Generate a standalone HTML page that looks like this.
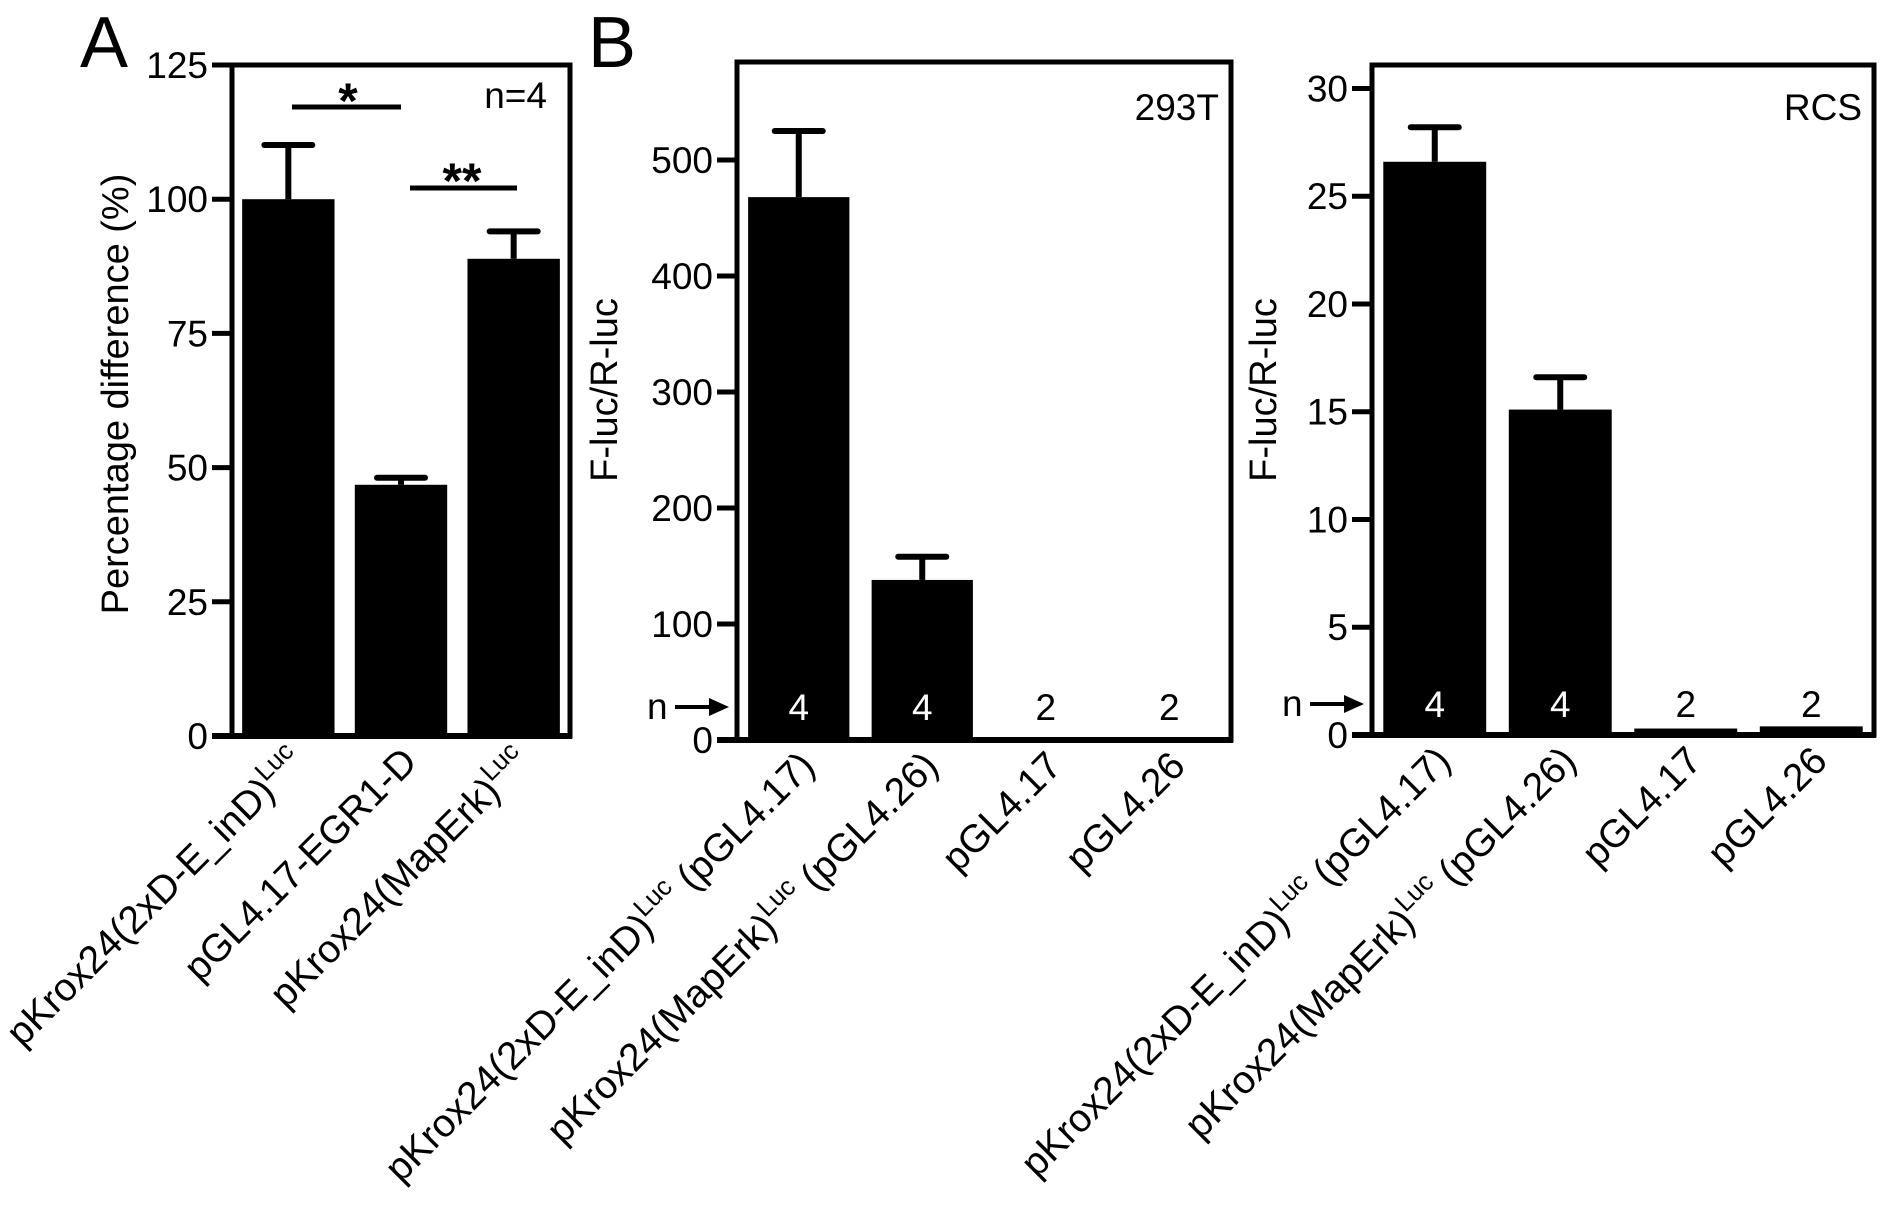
<!DOCTYPE html>
<html><head><meta charset="utf-8"><style>
html,body{margin:0;padding:0;background:#fff;}
svg{display:block;font-family:"Liberation Sans",Arial,sans-serif;}
</style></head><body>
<svg id="fig" width="1892" height="1229" viewBox="0 0 1892 1229" xmlns="http://www.w3.org/2000/svg">
<text x="80" y="67" font-size="72">A</text>
<text x="588" y="67" font-size="72">B</text>
</svg>
<script>
// Panel A data
const catsA = ["pKrox24(2xD-E_inD)|Luc|", "pGL4.17-EGR1-D", "pKrox24(MapErk)|Luc|"];
const valsA = [100, 46.8, 88.9];
const errsA = [110.1, 48.1, 94];
const ticksA = [0, 25, 50, 75, 100, 125];
// Panel B 293T data
const catsB = ["pKrox24(2xD-E_inD)|Luc| (pGL4.17)", "pKrox24(MapErk)|Luc| (pGL4.26)", "pGL4.17", "pGL4.26"];
const vals293 = [468, 138, 2, 2];
const errs293 = [525, 158, null, null];
const ticks293 = [0, 100, 200, 300, 400, 500];
const nVals = ["4", "4", "2", "2"];
// Panel B RCS data
const valsRCS = [26.6, 15.1, 0.3, 0.4];
const errsRCS = [28.2, 16.6, null, null];
const ticksRCS = [0, 5, 10, 15, 20, 25, 30];

const svg = document.getElementById('fig');
const NS = 'http://www.w3.org/2000/svg';
function mk(tag, attrs, parent) {
  const e = document.createElementNS(NS, tag);
  for (const k in attrs) e.setAttribute(k, attrs[k]);
  (parent || svg).appendChild(e);
  return e;
}

function panel(p) {
  const g = mk('g', {});
  
  
  const yScale = v => p.y0 - (v / p.vmax) * (p.y0 - p.yTop);
  const n = p.cats.length;
  const step = (p.x1 - p.x0) / n;
  const bw = step * 0.82;
  const xCenter = i => p.x0 + i * step + step / 2;
  p.vals.forEach((v, i) => {
    const r = mk('rect', {x: xCenter(i) - bw / 2, y: yScale(v), width: bw, height: p.y0 - yScale(v), fill: '#000'}, g);
    
    
    if (p.errs[i] != null) {
      const l = mk('line', {x1: xCenter(i), x2: xCenter(i), y1: yScale(v), y2: yScale(p.errs[i]), stroke: '#000', 'stroke-width': 6}, g);
      
      
      const c = mk('line', {x1: xCenter(i) - 24, x2: xCenter(i) + 24, y1: yScale(p.errs[i]), y2: yScale(p.errs[i]), stroke: '#000', 'stroke-width': 6, 'stroke-linecap': 'round'}, g);
      
      
    }
  });
  const f = mk('rect', {x: p.x0, y: p.yTop, width: p.x1 - p.x0, height: p.y0 - p.yTop, fill: 'none', stroke: '#000', 'stroke-width': 5}, g);
  
  
  p.ticks.forEach(t => {
    const y = yScale(t);
    const tl = mk('line', {x1: p.x0 - 20, x2: p.x0, y1: y, y2: y, stroke: '#000', 'stroke-width': 5}, g);
    
    
    const tx = mk('text', {x: p.x0 - 24, y: y + 13, 'font-size': 37, 'text-anchor': 'end'}, g);
    tx.textContent = String(t);
    
    
  });
  const bl = mk('line', {x1: p.x0 - 20, x2: p.x1 + 2, y1: p.y0, y2: p.y0, stroke: '#000', 'stroke-width': 6}, g);
  
  
  const yt = mk('text', {x: 0, y: 0, 'font-size': 38, 'text-anchor': 'middle', transform: `translate(${p.ytX},${p.ytY}) rotate(-90)`}, g);
  yt.textContent = p.ytitle;
  
  
  p.cats.forEach((c, i) => {
    const ax = xCenter(i) + 18, ay = p.y0 + 28;
    const t = mk('text', {x: 0, y: 0, 'font-size': 39, 'text-anchor': 'end', transform: `translate(${ax},${ay}) rotate(-45)`}, g);
    const parts = c.split('|');
    parts.forEach((s, k) => {
      if (!s) return;
      const ts = mk('tspan', {}, t);
      if (k === 1) { ts.setAttribute('font-size', '26'); ts.setAttribute('dy', '-16'); }
      if (k === 2) { ts.setAttribute('dy', '16'); }
      ts.textContent = s;
    });
    
    
  });
  if (p.nlabels) {
    p.nlabels.forEach((s, i) => {
      const inside = yScale(p.vals[i]) < p.nY - 20;
      const t = mk('text', {x: xCenter(i), y: p.nY + 13, 'font-size': 37, 'text-anchor': 'middle', fill: inside ? '#fff' : '#000'}, g);
      t.textContent = s;
      
      
    });
    const nt = mk('text', {x: p.x0 - 90, y: p.nY + 12, 'font-size': 37}, g);
    nt.textContent = 'n';
    
    
    const ar = mk('line', {x1: p.x0 - 62, x2: p.x0 - 22, y1: p.nY, y2: p.nY, stroke: '#000', 'stroke-width': 4}, g);
    
    
    const ah = mk('polygon', {points: `${p.x0 - 8},${p.nY} ${p.x0 - 28},${p.nY - 9} ${p.x0 - 28},${p.nY + 9}`, fill: '#000'}, g);
    
    
  }
  if (p.corner) {
    const ct = mk('text', {x: p.x1 - 12, y: 120, 'font-size': 37, 'text-anchor': 'end'}, g);
    ct.textContent = p.corner;
    
    
  }
  return {yScale, xCenter};
}

panel({name: 'panel-a', x0: 232, x1: 570, yTop: 65, y0: 736, vmax: 125, cats: catsA, vals: valsA, errs: errsA, ticks: ticksA, ytitle: 'Percentage difference (%)', ytX: 128, ytY: 394});
panel({name: 'panel-b-293t', x0: 737, x1: 1231, yTop: 62, y0: 740, vmax: 584.5, cats: catsB, vals: vals293, errs: errs293, ticks: ticks293, ytitle: 'F-luc/R-luc', ytX: 617, ytY: 390, nlabels: nVals, nY: 707, corner: '293T'});
panel({name: 'panel-b-rcs', x0: 1372, x1: 1874, yTop: 65, y0: 735, vmax: 31.09, cats: catsB, vals: valsRCS, errs: errsRCS, ticks: ticksRCS, ytitle: 'F-luc/R-luc', ytX: 1276, ytY: 390, nlabels: nVals, nY: 704, corner: 'RCS'});

const s1 = mk('line', {x1: 292, x2: 401, y1: 107, y2: 107, stroke: '#000', 'stroke-width': 5});


const st1 = mk('text', {x: 348, y: 118, 'font-size': 50, 'font-weight': 'bold', 'text-anchor': 'middle'});
st1.textContent = '*';


const s2 = mk('line', {x1: 410, x2: 517, y1: 188, y2: 188, stroke: '#000', 'stroke-width': 5});


const st2 = mk('text', {x: 462, y: 198, 'font-size': 50, 'font-weight': 'bold', 'text-anchor': 'middle'});
st2.textContent = '**';


const nA = mk('text', {x: 547, y: 108, 'font-size': 37, 'text-anchor': 'end'});
nA.textContent = 'n=4';


</script>
</body></html>
